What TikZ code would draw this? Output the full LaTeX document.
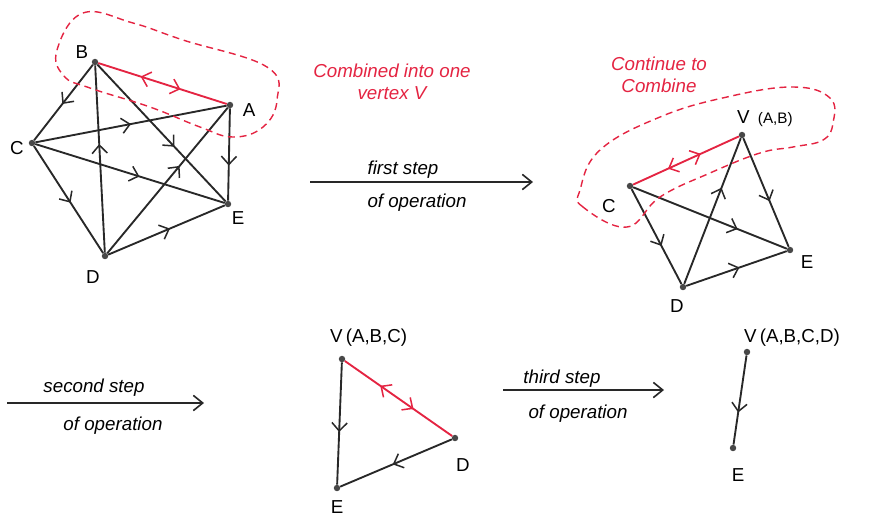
\documentclass[tikz,border=0pt]{standalone}
\usepackage{fontspec}
\setmainfont{Liberation Sans}
\usetikzlibrary{arrows.meta, decorations.markings}
\definecolor{penred}{RGB}{228, 36, 66}
\definecolor{penblack}{RGB}{40, 40, 40}

\begin{document}
\begin{tikzpicture}[x=0.03cm, y=-0.03cm,
			vtx/.style={circle, fill=penblack!85, inner sep=0pt, minimum size=5.5pt},
			edge/.style={penblack, line width=1.6pt, postaction={decorate},
				decoration={markings, mark=at position #1 with {\arrow{Straight Barb[length=7pt, width=13pt, line width=1.3pt]}}}},
			twoway/.style={penred, line width=1.6pt, postaction={decorate},
				decoration={markings, mark=at position 0.33 with {\arrowreversed{Straight Barb[length=7pt, width=13pt, line width=1.3pt]}},
					mark=at position 0.64 with {\arrow{Straight Barb[length=7pt, width=13pt, line width=1.3pt]}}}},
			loop/.style={penred, line width=1.2pt, dash pattern=on 6pt off 4pt},
			stepline/.style={-{Straight Barb[length=8pt, width=13pt]}, penblack, line width=1.4pt},
			lbl/.style={font=\fontsize{16}{17}\selectfont},
			note/.style={penred, font=\itshape\fontsize{16}{19}\selectfont, align=center},
			hand/.style={font=\itshape\fontsize{16}{18}\selectfont}]
	\useasboundingbox (0,0) rectangle (870,520);
	%Graph 1
	\node[vtx] (B) at (95,62) {};
	\node[vtx] (A) at (230,105) {};
	\node[vtx] (C) at (32,143) {};
	\node[vtx] (E) at (228,204) {};
	\node[vtx] (D) at (105,256) {};
	\node[lbl] (lB) at (82,52) {B};
	\node[lbl] (lA) at (249,110) {A};
	\node[lbl] (lC) at (17,148) {C};
	\node[lbl] (lE) at (238,218) {E};
	\node[lbl] (lD) at (93,277) {D};
	\foreach \s/\t/\p in {B/C/0.52, C/A/0.5, C/E/0.55, B/E/0.6, D/B/0.58, C/D/0.53,
			D/A/0.6, D/E/0.53, A/E/0.62}
		\draw[edge=\p] (\s) -- (\t);
	\draw[twoway] (B) -- (A);
	\draw[loop] plot[smooth cycle, tension=0.7] coordinates {(57,50) (83,13) (133,23) (183,40)
		(267,67) (277,100) (263,127) (233,137) (200,127) (150,107) (90,88) (64,76)};
	\node[note] (n1) at (392,82) {Combined into one\\vertex V};
	%Schritt 1
	\coordinate (s1a) at (310,182);
	\coordinate (s1b) at (533,182);
	\draw[stepline] (s1a) -- (s1b);
	\node[hand] (t1a) at (403,170) {first step};
	\node[hand] (t1b) at (417,203) {of operation};
	%Graph 2
	\node[vtx] (V2) at (742,135) {};
	\node[vtx] (C2) at (630,186) {};
	\node[vtx] (E2) at (790,250) {};
	\node[vtx] (D2) at (683,287) {};
	\node[lbl, anchor=west] (lV2) at (733,119) {V\, {\fontsize{13}{14}\selectfont(A,B)}};
	\node[lbl] (lC2) at (609,206) {C};
	\node[lbl] (lE2) at (807,262) {E};
	\node[lbl] (lD2) at (677,306) {D};
	\foreach \s/\t/\p in {V2/E2/0.58, D2/V2/0.66, C2/E2/0.68, C2/D2/0.6, D2/E2/0.53}
		\draw[edge=\p] (\s) -- (\t);
	\draw[twoway] (C2) -- (V2);
	\draw[loop] plot[smooth cycle, tension=0.7] coordinates {(627,227) (583,207) (580,190) (600,150)
		(660,117) (727,97) (793,87) (830,98) (833,123) (823,140) (793,147) (760,153) (710,173) (660,197)};
	\node[note] (n2) at (659,75) {Continue to\\Combine};
	%Schritt 2
	\coordinate (s2a) at (7,403);
	\coordinate (s2b) at (204,403);
	\draw[stepline] (s2a) -- (s2b);
	\node[hand] (t2a) at (94,388) {second step};
	\node[hand] (t2b) at (113,426) {of operation};
	%Graph 3
	\node[vtx] (V3) at (342,359) {};
	\node[vtx] (D3) at (455,438) {};
	\node[vtx] (E3) at (337,488) {};
	\node[lbl, anchor=west] (lV3) at (326,338) {V\,(A,B,C)};
	\node[lbl] (lD3) at (463,465) {D};
	\node[lbl] (lE3) at (337,507) {E};
	\foreach \s/\t/\p in {V3/E3/0.57, D3/E3/0.53}
		\draw[edge=\p] (\s) -- (\t);
	\draw[twoway] (V3) -- (D3);
	%Schritt 3
	\coordinate (s3a) at (503,390);
	\coordinate (s3b) at (664,390);
	\draw[stepline] (s3a) -- (s3b);
	\node[hand] (t3a) at (562,379) {third step};
	\node[hand] (t3b) at (578,414) {of operation};
	%Graph 4
	\node[vtx] (V4) at (747,352) {};
	\node[vtx] (E4) at (733,448) {};
	\node[lbl, anchor=west] (lV4) at (740,338) {V\,(A,B,C,D)};
	\node[lbl] (lE4) at (738,475) {E};
	\draw[edge=0.64] (V4) -- (E4);
\end{tikzpicture}
\end{document}
